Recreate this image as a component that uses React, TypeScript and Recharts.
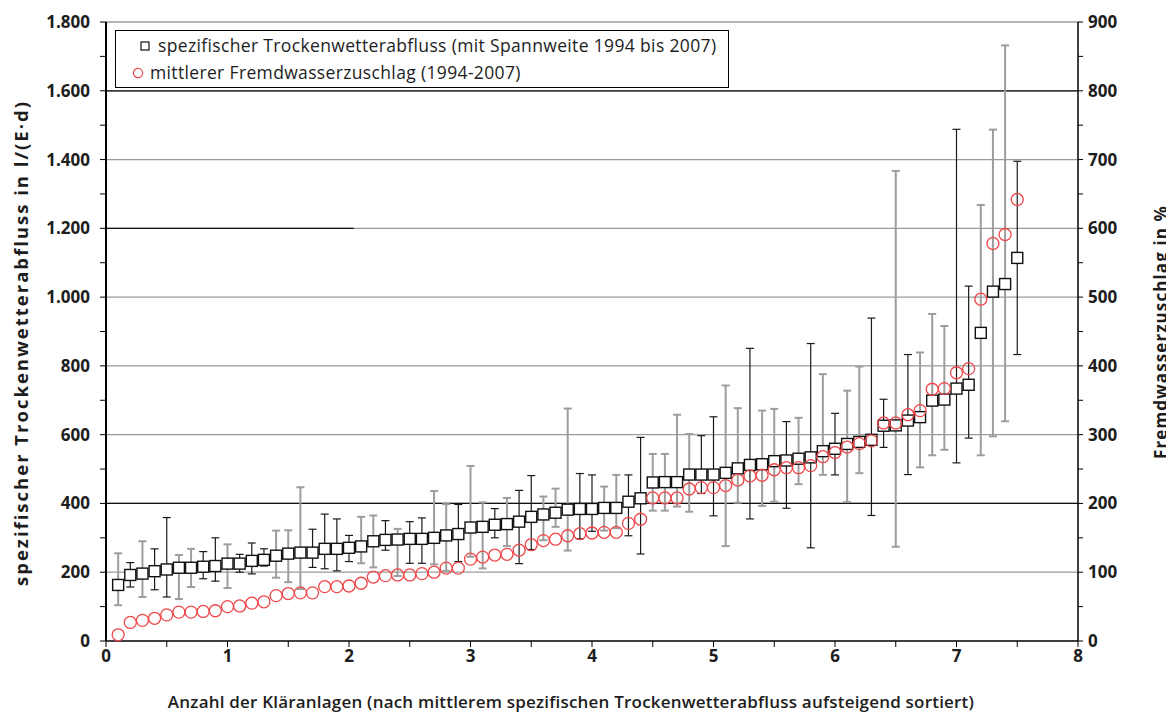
import React from 'react';
import { ComposedChart, Scatter, XAxis, YAxis, ErrorBar, ReferenceLine } from 'recharts';

// Position of each plant along the x axis (sorted by mean dry-weather flow)
const plantPos = [
  0.1, 0.2, 0.3, 0.4, 0.5, 0.6, 0.7, 0.8, 0.9, 1.0,
  1.1, 1.2, 1.3, 1.4, 1.5, 1.6, 1.7, 1.8, 1.9, 2.0,
  2.1, 2.2, 2.3, 2.4, 2.5, 2.6, 2.7, 2.8, 2.9, 3.0,
  3.1, 3.2, 3.3, 3.4, 3.5, 3.6, 3.7, 3.8, 3.9, 4.0,
  4.1, 4.2, 4.3, 4.4, 4.5, 4.6, 4.7, 4.8, 4.9, 5.0,
  5.1, 5.2, 5.3, 5.4, 5.5, 5.6, 5.7, 5.8, 5.9, 6.0,
  6.1, 6.2, 6.3, 6.4, 6.5, 6.6, 6.7, 6.8, 6.9, 7.0,
  7.1, 7.2, 7.3, 7.4, 7.5,
];

// spezifischer Trockenwetterabfluss, l/(E·d): mean, min, max (1994–2007)
const flowMean = [
  163, 192, 196, 203, 208, 213, 213, 216, 218, 225,
  225, 233, 236, 248, 254, 257, 257, 268, 268, 271,
  275, 290, 294, 295, 297, 297, 300, 307, 311, 330,
  332, 338, 340, 347, 361, 368, 373, 382, 384, 384,
  387, 387, 405, 415, 461, 462, 462, 484, 484, 484,
  489, 502, 512, 514, 523, 525, 530, 534, 552, 559,
  573, 579, 585, 626, 627, 641, 651, 699, 702, 734,
  745, 896, 1016, 1038, 1114,
];
const flowMin = [
  104, 157, 128, 149, 128, 122, 157, 181, 174, 154,
  200, 195, 218, 184, 171, 151, 214, 210, 204, 231,
  226, 214, 264, 189, 226, 226, 223, 204, 231, 245,
  211, 300, 276, 225, 266, 293, 332, 263, 297, 319,
  321, 328, 306, 253, 379, 379, 391, 376, 429, 364,
  276, 402, 355, 393, 405, 386, 456, 271, 483, 483,
  404, 488, 365, 563, 274, 484, 505, 540, 556, 518,
  590, 540, 595, 639, 833,
];
const flowMax = [
  255, 228, 290, 268, 359, 250, 268, 260, 300, 281,
  252, 285, 268, 321, 322, 447, 325, 369, 355, 307,
  361, 365, 350, 326, 347, 358, 436, 398, 397, 509,
  403, 385, 416, 438, 481, 420, 443, 676, 487, 483,
  449, 483, 483, 592, 544, 544, 658, 602, 597, 652,
  743, 677, 851, 670, 675, 638, 649, 865, 776, 662,
  728, 798, 939, 703, 1367, 833, 839, 951, 916, 1488,
  1032, 1268, 1487, 1732, 1395,
];
// range bar tone per plant: k = black, g = grey
const barTone = [
  'g', 'k', 'g', 'k', 'k', 'g', 'g', 'k', 'k', 'g',
  'k', 'k', 'k', 'g', 'g', 'g', 'k', 'k', 'k', 'k',
  'g', 'g', 'k', 'g', 'k', 'k', 'g', 'g', 'k', 'g',
  'g', 'k', 'g', 'k', 'k', 'g', 'g', 'g', 'k', 'k',
  'g', 'g', 'k', 'k', 'g', 'g', 'g', 'g', 'k', 'k',
  'g', 'g', 'k', 'g', 'g', 'k', 'g', 'k', 'g', 'k',
  'g', 'g', 'k', 'k', 'g', 'k', 'g', 'g', 'g', 'k',
  'k', 'g', 'g', 'g', 'k',
];
// mittlerer Fremdwasserzuschlag in % (1994–2007)
const infiltration = [
  9, 27, 30, 33, 38, 42, 42, 43, 44, 50,
  51, 55, 57, 66, 69, 70, 70, 79, 79, 80,
  84, 93, 95, 96, 96, 98, 100, 106, 106, 119,
  122, 125, 126, 132, 140, 146, 148, 153, 156, 157,
  158, 158, 171, 177, 208, 208, 208, 221, 223, 223,
  226, 234, 240, 241, 249, 252, 252, 255, 268, 274,
  282, 287, 291, 317, 317, 329, 335, 366, 367, 390,
  396, 497, 578, 591, 642,
];

const leftTicks = [0, 100, 200, 300, 400, 500, 600, 700, 800, 900, 1000, 1100, 1200, 1300, 1400, 1500, 1600, 1700, 1800];
const leftGrid = [200, 400, 600, 800, 1000, 1200, 1400, 1600, 1800];
const rightTicks = [0, 50, 100, 150, 200, 250, 300, 350, 400, 450, 500, 550, 600, 650, 700, 750, 800, 850, 900];
const xTicks = [0, 0.5, 1, 1.5, 2, 2.5, 3, 3.5, 4, 4.5, 5, 5.5, 6, 6.5, 7, 7.5, 8];

const rows = plantPos.map((x, i) => ({
  x,
  tw: flowMean[i],
  err: [flowMean[i] - flowMin[i], flowMax[i] - flowMean[i]],
  fw: infiltration[i],
  tone: barTone[i],
}));
const blackRows = rows.filter((r) => r.tone === 'k');
const greyRows = rows.filter((r) => r.tone === 'g');

const FONT = '"Open Sans", "DejaVu Sans", sans-serif';
const TEXT = '#1d1d1d';
const RED = '#f0474a';

const deThousands = (v: number) => {
  const s = String(Math.round(v));
  return s.length > 3 ? s.slice(0, s.length - 3) + '.' + s.slice(s.length - 3) : s;
};

const SquareMark = (props: any) => {
  const { cx, cy } = props;
  if (cx == null || cy == null) return null;
  return <rect x={cx - 5.5} y={cy - 5.5} width={11} height={11} fill="#fff" stroke="#111" strokeWidth={1.4} />;
};

const RingMark = (props: any) => {
  const { cx, cy } = props;
  if (cx == null || cy == null) return null;
  return <circle cx={cx} cy={cy} r={6} fill="none" stroke={RED} strokeWidth={1.3} />;
};

const VerticalTitle = ({ tx, ty, caption, size = 17, spacing = 1.1 }: any) => (
  <text
    x={tx}
    y={ty}
    transform={`rotate(-90 ${tx} ${ty})`}
    textAnchor="middle"
    dominantBaseline="central"
    fontFamily={FONT}
    fontSize={size}
    fontWeight={700}
    letterSpacing={spacing}
    fill={TEXT}
  >
    {caption}
  </text>
);

const HorizontalTitle = ({ tx, ty, caption }: any) => (
  <text
    x={tx}
    y={ty}
    textAnchor="middle"
    dominantBaseline="central"
    fontFamily={FONT}
    fontSize={17}
    fontWeight={600}
    letterSpacing={0.2}
    fill={TEXT}
  >
    {caption}
  </text>
);

const tickStyle = { fontFamily: FONT, fontSize: 17, fontWeight: 700, fill: TEXT };

export default function App() {
  return (
    <div style={{ position: 'relative', width: 1166, height: 705, fontFamily: FONT }}>
      <ComposedChart width={1166} height={705} margin={{ top: 14, right: 0, bottom: 0, left: 0 }}>
        <XAxis
          type="number"
          dataKey="x"
          domain={[0, 8]}
          ticks={xTicks}
          interval={0}
          allowDataOverflow
          height={72}
          tickSize={6}
          tickMargin={3}
          tick={tickStyle}
          tickFormatter={(v: number) => (Number.isInteger(v) ? String(v) : '')}
          axisLine={{ stroke: '#000', strokeWidth: 1.5 }}
          tickLine={{ stroke: '#000' }}
          label={<HorizontalTitle tx={563} ty={693} caption="Anzahl der Kläranlagen (nach mittlerem spezifischen Trockenwetterabfluss aufsteigend sortiert)" />}
        />
        <YAxis
          yAxisId="l"
          type="number"
          domain={[0, 1800]}
          ticks={leftTicks}
          interval={0}
          width={98}
          tickSize={6}
          tickMargin={10}
          tick={tickStyle}
          tickFormatter={(v: number) => (v % 200 === 0 ? deThousands(v) : '')}
          axisLine={{ stroke: '#000', strokeWidth: 2 }}
          tickLine={{ stroke: '#000' }}
          label={<VerticalTitle tx={12} ty={335} size={18.5} spacing={2} caption="spezifischer Trockenwetterabfluss in l/(E·d)" />}
        />
        <YAxis
          yAxisId="r"
          orientation="right"
          type="number"
          domain={[0, 900]}
          ticks={rightTicks}
          interval={0}
          width={96}
          tickSize={5}
          tickMargin={5}
          tick={tickStyle}
          tickFormatter={(v: number) => (v % 100 === 0 ? String(v) : '')}
          axisLine={{ stroke: '#000', strokeWidth: 1.5 }}
          tickLine={{ stroke: '#000' }}
          label={<VerticalTitle tx={1152} ty={324} caption="Fremdwasserzuschlag in %" />}
        />

        {leftGrid.map((v) => (
          <ReferenceLine key={`g${v}`} yAxisId="l" y={v} stroke="#9b9b9b" strokeWidth={1.3} />
        ))}
        <ReferenceLine yAxisId="l" y={400} stroke="#111" strokeWidth={1.3} />
        <ReferenceLine yAxisId="l" y={1600} stroke="#111" strokeWidth={1.3} />
        <ReferenceLine
          yAxisId="l"
          segment={[
            { x: 0, y: 1200 },
            { x: 2.04, y: 1200 },
          ]}
          stroke="#111"
          strokeWidth={1.3}
        />

        <Scatter yAxisId="l" data={greyRows} dataKey="tw" shape={SquareMark} isAnimationActive={false}>
          <ErrorBar dataKey="err" direction="y" width={4} stroke="#9d9d9d" strokeWidth={2} />
        </Scatter>
        <Scatter yAxisId="l" data={blackRows} dataKey="tw" shape={SquareMark} isAnimationActive={false}>
          <ErrorBar dataKey="err" direction="y" width={4} stroke="#1a1a1a" strokeWidth={1.2} />
        </Scatter>
        <Scatter yAxisId="r" data={rows} dataKey="fw" shape={RingMark} isAnimationActive={false} />
      </ComposedChart>

      <div
        style={{
          position: 'absolute',
          left: 107,
          top: 22,
          width: 614,
          height: 58,
          border: '1px solid #000',
          background: '#fff',
          fontFamily: FONT,
          fontSize: 17.5,
          letterSpacing: 0.35,
          color: TEXT,
          boxSizing: 'border-box',
          paddingLeft: 24,
          paddingTop: 1,
          lineHeight: '27px',
        }}
      >
        <div style={{ display: 'flex', alignItems: 'center' }}>
          <svg width={10} height={10} style={{ marginRight: 8 }}>
            <rect x={1} y={1} width={8} height={8} fill="#fff" stroke="#111" strokeWidth={1.2} />
          </svg>
          <span>spezifischer Trockenwetterabfluss (mit Spannweite 1994 bis 2007)</span>
        </div>
        <div style={{ display: 'flex', alignItems: 'center', marginLeft: -8 }}>
          <svg width={12} height={12} style={{ marginRight: 6 }}>
            <circle cx={6} cy={6} r={4.6} fill="none" stroke={RED} strokeWidth={1.2} />
          </svg>
          <span>mittlerer Fremdwasserzuschlag (1994-2007)</span>
        </div>
      </div>
    </div>
  );
}
